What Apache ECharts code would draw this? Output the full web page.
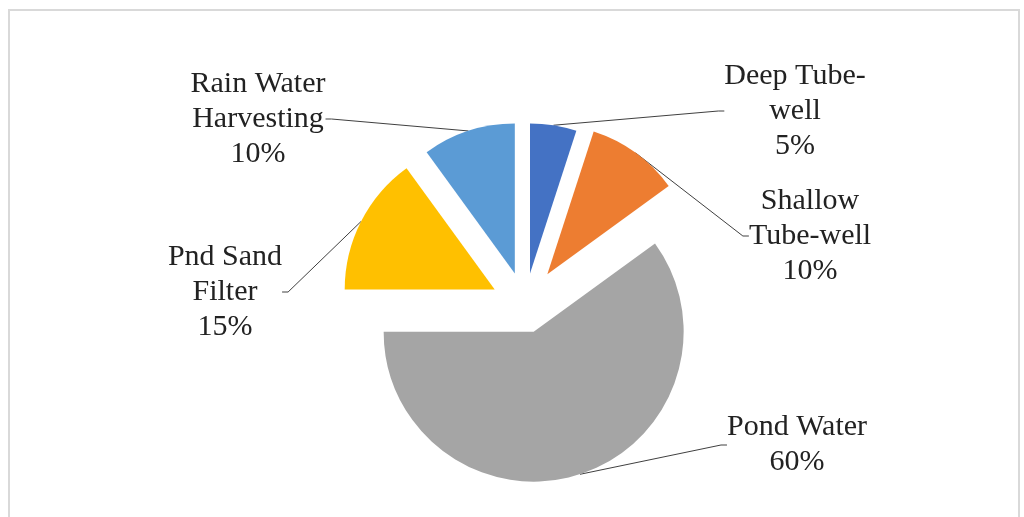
<!DOCTYPE html>
<html>
<head>
<meta charset="utf-8">
<script src="https://cdn.jsdelivr.net/npm/echarts@6/dist/echarts.min.js"></script>
<style>
  html, body { margin: 0; padding: 0; background: #fff; }
  #chart { width: 1024px; height: 517px; }
</style>
</head>
<body>
<div id="chart"></div>
<script>
// water sources, clockwise from 12 o'clock
const sourceNames = ['Deep Tube-\nwell', 'Shallow\nTube-well', 'Pond Water', 'Pnd Sand\nFilter', 'Rain Water\nHarvesting']
const sourceShares = [5, 10, 60, 15, 10]

const sliceColors = ['#4472c4', '#ed7d31', '#a5a5a5', '#ffc000', '#5b9bd5']
// how far each slice is pulled out of the pie (px)
const explode = [32, 38, 28, 34, 33]
// centre of each label block
const labelSpots = [
  [795, 111],
  [810, 236],
  [797, 445],
  [225, 292],
  [258, 119],
]

const pieCenter = [525, 305]
const pieRadius = 150

const chart = echarts.init(document.getElementById('chart'))

const total = sourceShares.reduce((a, b) => a + b, 0)
let running = 0
const midAngles = sourceShares.map((v) => {
  const mid = ((running + v / 2) / total) * Math.PI * 2
  running += v
  return mid
})

// one pie per slice so every slice can be pulled out on its own
const series = sourceShares.map((_, k) => ({
  type: 'pie',
  center: [
    pieCenter[0] + explode[k] * Math.sin(midAngles[k]),
    pieCenter[1] - explode[k] * Math.cos(midAngles[k]),
  ],
  radius: pieRadius,
  startAngle: 90,
  clockwise: true,
  silent: true,
  avoidLabelOverlap: false,
  itemStyle: { borderWidth: 0 },
  label: {
    show: false,
    fontFamily: 'Liberation Serif',
    fontSize: 30,
    lineHeight: 35,
    color: '#222',
    formatter: (p) => p.name + '\n' + Math.round(p.percent) + '%',
  },
  labelLine: {
    show: false,
    length: 10,
    length2: 6,
    smooth: false,
    lineStyle: { color: '#404040', width: 1 },
  },
  labelLayout: (params) => {
    const spot = labelSpots[params.dataIndex]
    return { x: spot[0], y: spot[1], align: 'center', verticalAlign: 'middle' }
  },
  data: sourceNames.map((name, i) => ({
    name: name,
    value: sourceShares[i],
    itemStyle: { color: i === k ? sliceColors[i] : 'rgba(0,0,0,0)' },
    label: { show: i === k },
    labelLine: { show: i === k },
  })),
}))

const option = {
  backgroundColor: '#fff',
  animation: false,
  graphic: [
    {
      type: 'rect',
      shape: { x: 9, y: 10, width: 1010, height: 530 },
      style: { fill: 'none', stroke: '#d9d9d9', lineWidth: 2 },
      silent: true,
    },
  ],
  series: series,
}

chart.setOption(option)
</script>
</body>
</html>
